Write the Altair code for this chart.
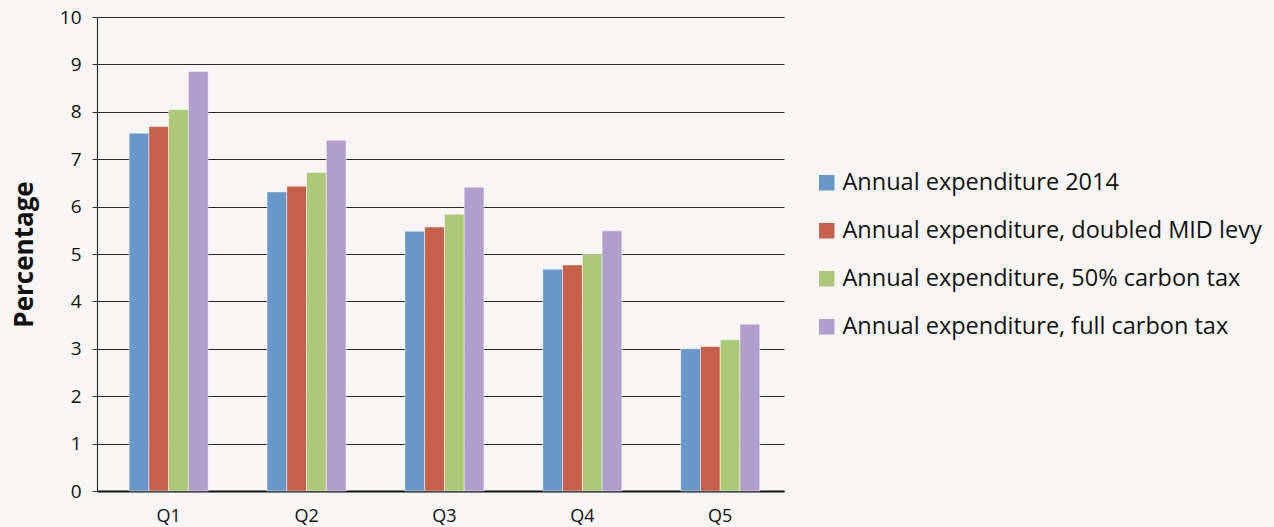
import altair as alt
import pandas as pd

quintiles = ["Q1", "Q2", "Q3", "Q4", "Q5"]
series = [
    "Annual expenditure 2014",
    "Annual expenditure, doubled MID levy",
    "Annual expenditure, 50% carbon tax",
    "Annual expenditure, full carbon tax",
]
exp_2014 = [7.55, 6.31, 5.48, 4.68, 3.00]
exp_mid = [7.69, 6.43, 5.57, 4.77, 3.05]
exp_half = [8.05, 6.72, 5.84, 4.99, 3.19]
exp_full = [8.85, 7.40, 6.41, 5.49, 3.52]
y_ticks = [0, 1, 2, 3, 4, 5, 6, 7, 8, 9, 10]
colors = ["#6897C9", "#C6604A", "#ADC878", "#B09FCC"]

rows = []
for s, vals in zip(series, [exp_2014, exp_mid, exp_half, exp_full]):
    for q, v in zip(quintiles, vals):
        rows.append({"Quintile": q, "Series": s, "Value": v})
df = pd.DataFrame(rows)

font = "Open Sans"

chart = alt.Chart(df).mark_bar(stroke="#FFFFFF", strokeWidth=0.8, strokeOpacity=0.6).encode(
    x=alt.X("Quintile:N", sort=quintiles,
            scale=alt.Scale(paddingInner=0.427, paddingOuter=0.2045, align=0.57),
            axis=alt.Axis(title=None, labelAngle=0, ticks=False, labelFontSize=18,
                          labelPadding=16, labelColor="#111", labelFont=font,
                          domainColor="#111", domainWidth=2)),
    xOffset=alt.XOffset("Series:N", sort=series),
    y=alt.Y("Value:Q", scale=alt.Scale(domain=[0, 10]),
            axis=alt.Axis(title="Percentage", values=y_ticks, labelOverlap=False,
                          titleFontSize=26, titleFontWeight="bold", titleFont=font,
                          titleColor="#111", titlePadding=22,
                          labelFontSize=19, labelColor="#111", labelFont=font,
                          labelPadding=11, tickSize=5, tickColor="#333",
                          domainColor="#333", domainWidth=1.2,
                          grid=True, gridColor="#2a2a2a", gridWidth=1)),
    color=alt.Color("Series:N", sort=series,
                    scale=alt.Scale(domain=series, range=colors),
                    legend=alt.Legend(title=None, orient="none", legendX=718, legendY=154,
                                      symbolType="square", symbolSize=240,
                                      symbolStrokeWidth=0,
                                      labelFontSize=23.5, labelFont=font, labelColor="#111",
                                      rowPadding=23, labelLimit=500, labelOffset=4)),
).properties(
    width=687, height=474, background="#F7F6F4",
    padding={"left": 97, "top": 17, "right": 490, "bottom": 36},
    autosize=alt.AutoSizeParams(type="none"),
).configure_view(stroke=None)

chart.save("out.html", embed_options={"renderer": "svg", "actions": False})
